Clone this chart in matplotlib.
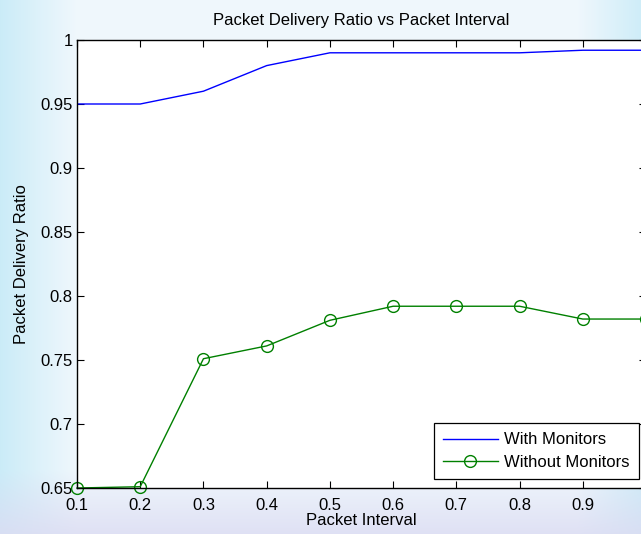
import numpy as np
import matplotlib
matplotlib.use("Agg")
import matplotlib.pyplot as plt

plt.rcParams['font.family'] = ['Liberation Sans', 'DejaVu Sans']

# Packet interval (s) and delivery ratios
packet_interval = [0.1, 0.2, 0.3, 0.4, 0.5, 0.6, 0.7, 0.8, 0.9, 1.0]
with_monitors = [0.950, 0.950, 0.960, 0.980, 0.990, 0.990, 0.990, 0.990, 0.992, 0.992]
without_monitors = [0.650, 0.651, 0.751, 0.761, 0.781, 0.792, 0.792, 0.792, 0.782, 0.782]

x_ticks = [0.1, 0.2, 0.3, 0.4, 0.5, 0.6, 0.7, 0.8, 0.9, 1.0]
x_tick_labels = ['0.1', '0.2', '0.3', '0.4', '0.5', '0.6', '0.7', '0.8', '0.9', '']
y_ticks = [0.65, 0.7, 0.75, 0.8, 0.85, 0.9, 0.95, 1.0]
y_tick_labels = ['0.65', '0.7', '0.75', '0.8', '0.85', '0.9', '0.95', '1']

FS = 12
W, H = 641, 534
fig = plt.figure(figsize=(W / 100, H / 100), dpi=100)

# soft pale backdrop behind the plot
bg = fig.add_axes([0, 0, 1, 1], zorder=-10)
yy = np.linspace(0, 1, H)[:, None] * np.ones((1, W))
xx = np.ones((H, 1)) * np.linspace(0, 1, W)[None, :]
base = np.array([0.94, 0.97, 0.99])
cyan = np.array([0.78, 0.92, 0.97])
lav = np.array([0.86, 0.86, 0.95])
w_cyan = np.clip(1 - xx / 0.12, 0, 1) * 0.9 + np.clip((xx - 0.9) / 0.1, 0, 1) * 0.8
w_lav = np.clip((yy - 0.88) / 0.12, 0, 1) * 0.8
img = base[None, None, :] * np.ones((H, W, 1))
img = img * (1 - w_cyan[..., None]) + cyan * w_cyan[..., None]
img = img * (1 - w_lav[..., None]) + lav * w_lav[..., None]
bg.imshow(img, aspect='auto', extent=[0, 1, 0, 1], origin='upper')
bg.axis('off')

left = 77 / W
bottom = (H - 488) / H
width = (646 - 77) / W
height = (488 - 40) / H
ax = fig.add_axes([left, bottom, width, height])
ax.set_facecolor('white')

ax.plot(packet_interval, with_monitors, color=(0, 0, 1), lw=1.0, label='With Monitors')
ax.plot(packet_interval, without_monitors, color=(0, 0.5, 0), lw=1.0,
        marker='o', markersize=8.5, markerfacecolor='none', markeredgewidth=1.0,
        label='Without Monitors', clip_on=False)

ax.set_xlim(0.1, 1.0)
ax.set_ylim(0.65, 1.0)
ax.set_xticks(x_ticks)
ax.set_xticklabels(x_tick_labels)
ax.set_yticks(y_ticks)
ax.set_yticklabels(y_tick_labels)
ax.tick_params(direction='in', length=5, width=0.8, top=True, right=True,
               labelsize=FS, colors='black')
ax.tick_params(axis='x', pad=7)
ax.tick_params(axis='y', pad=3)
for s in ax.spines.values():
    s.set_linewidth(1.0)

ax.set_title('Packet Delivery Ratio vs Packet Interval', fontsize=FS, pad=11)
ax.set_xlabel('Packet Interval', fontsize=FS, labelpad=0)
ax.set_ylabel('Packet Delivery Ratio', fontsize=FS, labelpad=8)

leg = ax.legend(loc='lower right', bbox_to_anchor=(639 / W, (H - 479) / H),
                bbox_transform=fig.transFigure, borderaxespad=0, fontsize=FS,
                fancybox=False, framealpha=1, edgecolor='black', borderpad=0.55,
                handlelength=3.3, labelspacing=0.45, handletextpad=0.4)
leg.get_frame().set_linewidth(0.9)

fig.savefig('out.png', dpi=100)
